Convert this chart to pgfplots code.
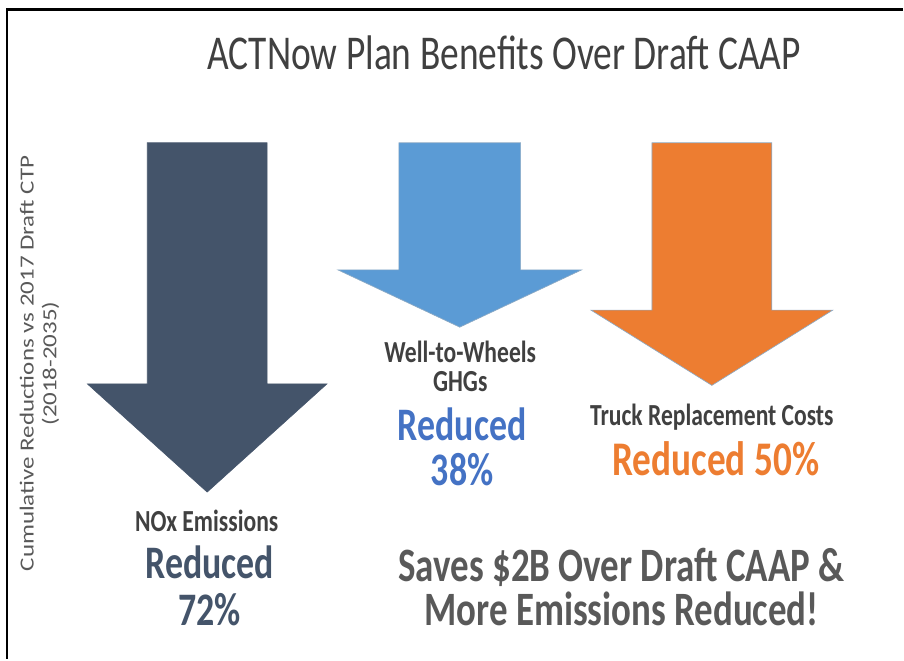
\documentclass[border=0pt]{standalone}
\usepackage{pgfplots}
\pgfplotsset{compat=1.18}
\usepackage{fontspec}
\setmainfont{Carlito}
\newfontfamily\cond[FakeStretch=0.77]{Carlito}
\newfontfamily\rotf[FakeStretch=1.25]{Carlito}
\definecolor{slate}{HTML}{44546A}
\definecolor{blueA}{HTML}{5B9BD5}
\definecolor{blueT}{HTML}{4472C4}
\definecolor{orangeA}{HTML}{ED7D31}
\definecolor{outl}{HTML}{41719C}
\definecolor{greyT}{HTML}{404040}
\definecolor{greyL}{HTML}{595959}
\begin{document}
\begin{tikzpicture}
\begin{axis}[
  width=678pt, height=495pt, scale only axis,
  hide axis,
  xmin=0, xmax=904, ymin=-29.42, ymax=106.38,
  y dir=reverse, clip=false]
% bounding box
\path (axis cs:0,-29.42) rectangle (axis cs:904,106.38);
% NOx: 72%
\addplot[fill=slate, draw=slate, line width=0.4pt] coordinates {
 (147.5,0) (267.5,0) (267.5,49.7) (327.5,49.7) (207.5,72) (87.5,49.7) (147.5,49.7)} -- cycle;
% GHG: 38%
\addplot[fill=blueA, draw=outl!60, line width=0.5pt] coordinates {
 (399.5,0) (521.5,0) (521.5,26.2) (582.5,26.2) (460.5,38) (338.5,26.2) (399.5,26.2)} -- cycle;
% Truck costs: 50%
\addplot[fill=orangeA, draw=outl!60, line width=0.5pt] coordinates {
 (653,0) (773,0) (773,34.5) (834,34.5) (713,50) (592,34.5) (653,34.5)} -- cycle;
% frame
\draw[line width=2.2pt, black] (axis cs:7,106.38) -- (axis cs:7,-27.37) -- (axis cs:904,-27.37);
% texts
\begin{scope}[every node/.style={inner sep=0pt}]
\node[text=greyT, font=\cond\fontsize{36.5}{40}\selectfont] at (axis cs:505,-18.52) {ACTNow Plan Benefits Over Draft CAAP};
\node[text=greyL, rotate=90, align=center, font=\rotf\fontsize{15}{17}\selectfont] at (axis cs:39.5,45.5) {Cumulative Reductions vs 2017 Draft CTP\\(2018-2035)};
\node[text=greyT, font=\cond\bfseries\fontsize{23}{26}\selectfont] at (axis cs:207,78) {NOx Emissions};
\node[text=slate, align=center, font=\cond\bfseries\fontsize{35}{35.3}\selectfont] at (axis cs:210,91.25) {Reduced\\72\%};
\node[text=greyT, align=center, font=\cond\bfseries\fontsize{23}{21.2}\selectfont] at (axis cs:461,46.1) {Well-to-Wheels\\GHGs};
\node[text=blueT, align=center, font=\cond\bfseries\fontsize{35}{34}\selectfont] at (axis cs:463,62.65) {Reduced\\38\%};
\node[text=greyT, font=\cond\bfseries\fontsize{23}{26}\selectfont] at (axis cs:713,56.6) {Truck Replacement Costs};
\node[text=orangeA, font=\cond\bfseries\fontsize{36.3}{40}\selectfont] at (axis cs:717,65.2) {Reduced 50\%};
\node[text=greyL, align=center, font=\cond\bfseries\fontsize{36}{33}\selectfont] at (axis cs:622.5,91.6) {Saves \$2B Over Draft CAAP \&\\More Emissions Reduced!};
\end{scope}
\end{axis}
\end{tikzpicture}
\end{document}
